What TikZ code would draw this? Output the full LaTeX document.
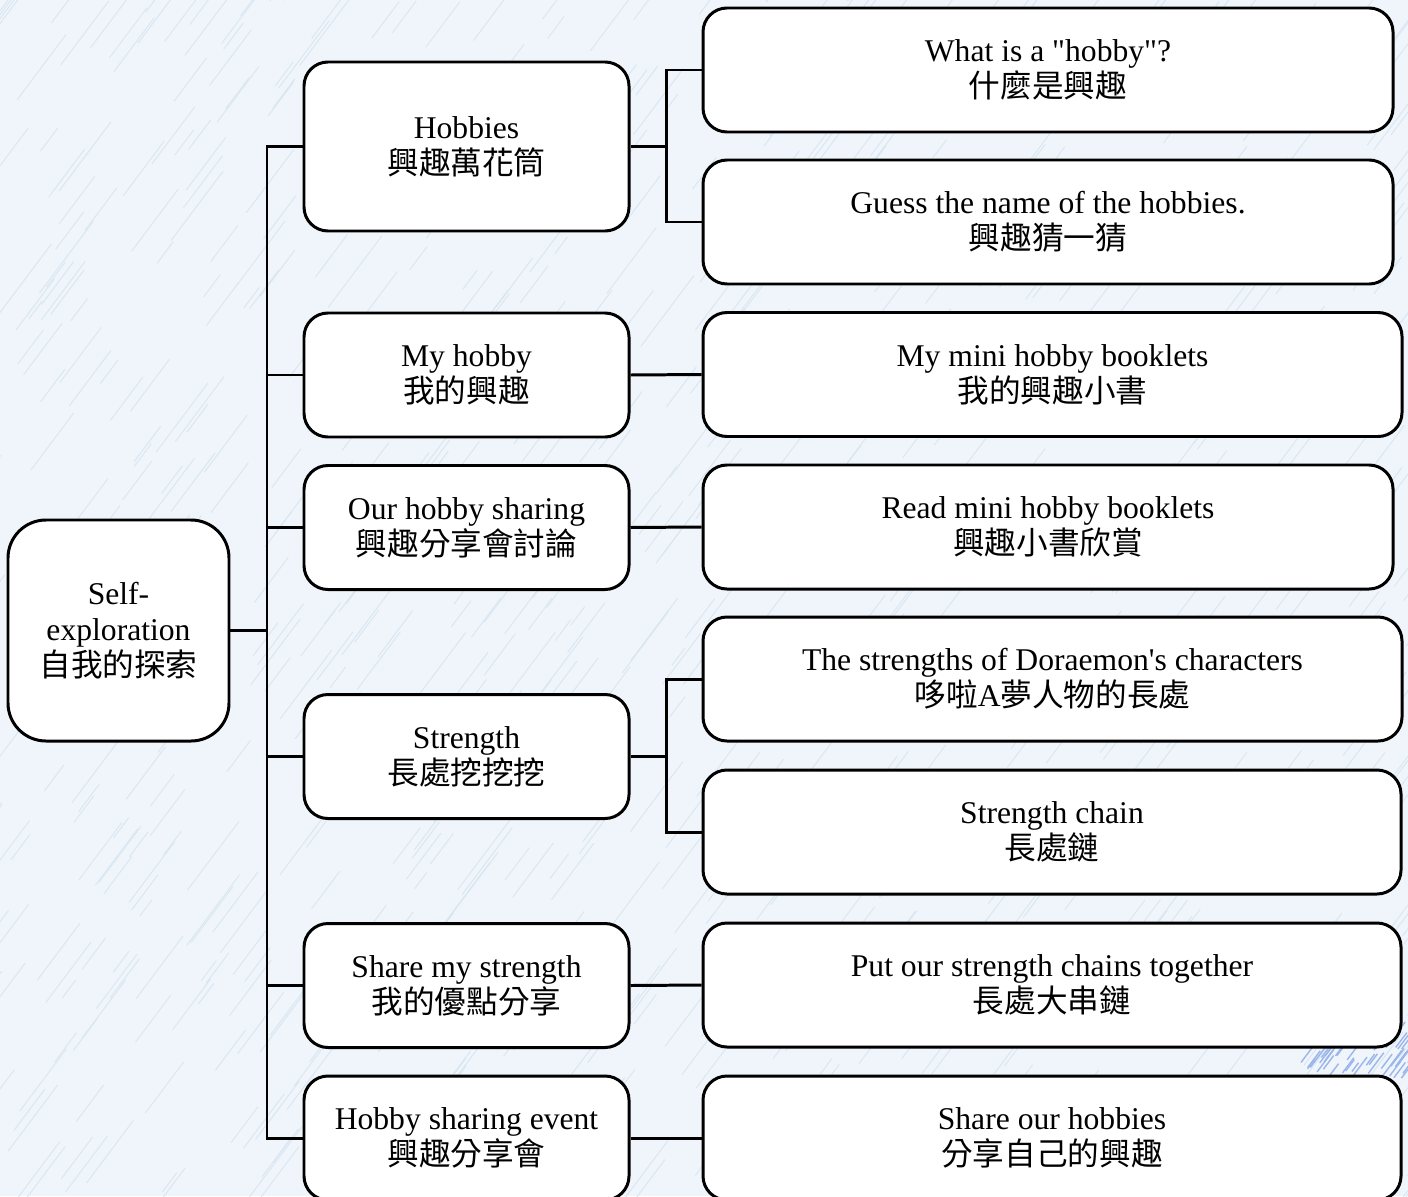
\documentclass[tikz,border=0pt]{standalone}
\usepackage{fontspec}
\setmainfont{Liberation Serif}[Ligatures=TeXOff]
\newfontfamily\cjk{Noto Sans CJK TC}
\definecolor{bgcol}{RGB}{239,245,250}
\definecolor{streakcol}{RGB}{216,230,242}
\definecolor{bluestreak}{RGB}{110,150,225}
\begin{document}
\begin{tikzpicture}[x=0.02cm,y=-0.02cm,
  box/.style={draw=black, line width=1.7pt, fill=white, rounded corners=0.48cm,
    align=center, inner sep=0pt, font=\fontsize{18}{20.5}\selectfont},
  link/.style={draw=black, line width=1.7pt},
  streak/.style={draw=streakcol, line width=0.5pt}]
\useasboundingbox (0,0) rectangle (1408,1196);
\fill[bgcol] (0,0) rectangle (1408,1196);
\begin{scope}
  \clip (0,0) rectangle (1408,1196);
  \pgfmathsetseed{42}
  \foreach \i in {1,...,900}{
    \pgfmathsetmacro\xa{rnd*1460-40}
    \pgfmathsetmacro\ya{rnd*1260-20}
    \pgfmathsetmacro\len{20+rnd*70}
    \draw[streak] (\xa,\ya) -- ++(\len*0.6,-\len*0.8);
  }
  \foreach \i in {1,...,40}{
    \pgfmathsetmacro\xa{1300+rnd*110}
    \pgfmathsetmacro\ya{1045+rnd*35}
    \pgfmathsetmacro\len{10+rnd*25}
    \draw[bluestreak!70, line width=0.8pt] (\xa,\ya) -- ++(\len*0.6,-\len*0.8);
  }
\end{scope}

% root
\node[box, rounded corners=0.76cm, minimum width={221*0.02cm}, minimum height={221*0.02cm}] (root) at (118.5,630.5)
  {Self-\\exploration\\{\cjk 自我的探索}};

% middle column
\node[box, minimum width={325*0.02cm}, minimum height={169*0.02cm}] (hob) at (466.5,146.5) {Hobbies\\{\cjk 興趣萬花筒}};
\node[box, minimum width={325*0.02cm}, minimum height={124*0.02cm}] (my) at (466.5,375) {My hobby\\{\cjk 我的興趣}};
\node[box, minimum width={325*0.02cm}, minimum height={124*0.02cm}] (our) at (466.5,527.5) {Our hobby sharing\\{\cjk 興趣分享會討論}};
\node[box, minimum width={325*0.02cm}, minimum height={124*0.02cm}] (str) at (466.5,756.5) {Strength\\{\cjk 長處挖挖挖}};
\node[box, minimum width={325*0.02cm}, minimum height={124*0.02cm}] (shs) at (466.5,985.5) {Share my strength\\{\cjk 我的優點分享}};
\node[box, minimum width={325*0.02cm}, minimum height={124*0.02cm}] (evt) at (466.5,1138) {Hobby sharing event\\{\cjk 興趣分享會}};

% right column
\node[box, minimum width={690*0.02cm}, minimum height={124*0.02cm}] (what) at (1048,70) {What is a "hobby"?\\{\cjk 什麼是興趣}};
\node[box, minimum width={690*0.02cm}, minimum height={124*0.02cm}] (guess) at (1048,222) {Guess the name of the hobbies.\\{\cjk 興趣猜一猜}};
\node[box, minimum width={699*0.02cm}, minimum height={124*0.02cm}] (mini) at (1052.5,374.5) {My mini hobby booklets\\{\cjk 我的興趣小書}};
\node[box, minimum width={690*0.02cm}, minimum height={124*0.02cm}] (read) at (1048,527) {Read mini hobby booklets\\{\cjk 興趣小書欣賞}};
\node[box, minimum width={699*0.02cm}, minimum height={124*0.02cm}] (dora) at (1052.5,679) {The strengths of Doraemon's characters\\{\cjk 哆啦}A{\cjk 夢人物的長處}};
\node[box, minimum width={698*0.02cm}, minimum height={124*0.02cm}] (chain) at (1052,832) {Strength chain\\{\cjk 長處鏈}};
\node[box, minimum width={698*0.02cm}, minimum height={124*0.02cm}] (put) at (1052,985) {Put our strength chains together\\{\cjk 長處大串鏈}};
\node[box, minimum width={698*0.02cm}, minimum height={124*0.02cm}] (share) at (1052,1138) {Share our hobbies\\{\cjk 分享自己的興趣}};

% connector anchors
\coordinate (tx) at (267,0);
\coordinate (bx) at (666,0);

% trunk
\draw[link] (root.east) -- (root.east -| tx);
\draw[link, line cap=rect] (hob.west -| tx) -- (evt.west -| tx);
\foreach \m in {hob,my,our,str,shs,evt}{
  \draw[link] (\m.west -| tx) -- (\m.west);
}
% hobbies branch
\draw[link] (hob.east) -- (hob.east -| bx);
\draw[link, line cap=rect] (what.west -| bx) -- (guess.west -| bx);
\draw[link] (what.west -| bx) -- (what.west);
\draw[link] (guess.west -| bx) -- (guess.west);
% strength branch
\draw[link] (str.east) -- (str.east -| bx);
\draw[link, line cap=rect] (dora.west -| bx) -- (chain.west -| bx);
\draw[link] (dora.west -| bx) -- (dora.west);
\draw[link] (chain.west -| bx) -- (chain.west);
% direct links
\draw[link] (my.east) -- (mini.west);
\draw[link] (our.east) -- (read.west);
\draw[link] (shs.east) -- (put.west);
\draw[link] (evt.east) -- (share.west);
\end{tikzpicture}
\end{document}
